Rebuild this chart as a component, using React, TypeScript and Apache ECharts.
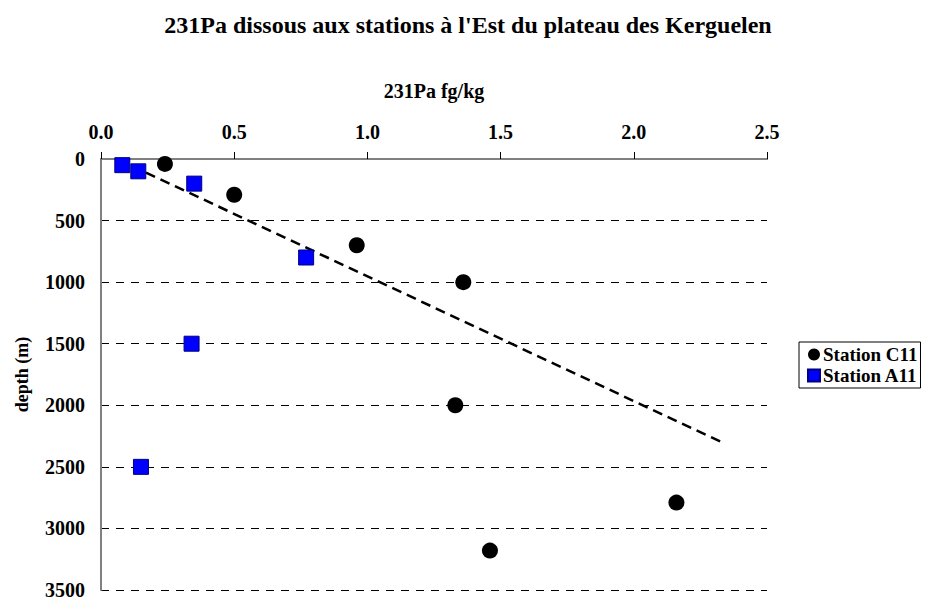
import React, { useEffect, useRef } from "react";
import * as echarts from "echarts";

const titleText = "231Pa dissous aux stations à l'Est du plateau des Kerguelen";
const xAxisName = "231Pa fg/kg";
const yAxisName = "depth (m)";

const stationC11: [number, number][] = [
  [0.24, 40],
  [0.5, 290],
  [0.96, 700],
  [1.36, 1000],
  [1.33, 2000],
  [2.16, 2790],
  [1.46, 3180],
];

const stationA11: [number, number][] = [
  [0.08, 50],
  [0.14, 100],
  [0.35, 200],
  [0.77, 800],
  [0.34, 1500],
  [0.15, 2500],
];

const trendLine: [number, number][] = [
  [0.06, 0],
  [2.33, 2300],
];

const FONT = "Liberation Serif";

export default function App() {
  const ref = useRef<HTMLDivElement>(null);
  useEffect(() => {
    if (!ref.current) return;
    const chart = echarts.init(ref.current, undefined, { renderer: "svg" });
    chart.setOption({
      animation: false,
      backgroundColor: "#ffffff",
      title: {
        text: titleText,
        left: 463,
        top: 8,
        textAlign: "center",
        textStyle: { fontFamily: FONT, fontWeight: "bold", fontSize: 24, color: "#000" },
      },
      legend: {
        orient: "vertical",
        left: 799,
        top: 342,
        padding: [3, 3, 3, 8],
        itemGap: 2,
        itemWidth: 12,
        itemHeight: 12,
        borderColor: "#000",
        borderWidth: 1,
        textStyle: { fontFamily: FONT, fontWeight: "bold", fontSize: 19, color: "#000", padding: [0, 0, 0, -2] },
        data: [
          { name: "Station C11", icon: "circle" },
          { name: "Station A11", icon: "rect" },
        ],
      },
      grid: { left: 101, top: 159, right: 161, bottom: 7, containLabel: false },
      xAxis: [
        {
          type: "value",
          position: "top",
          min: 0,
          max: 2.5,
          interval: 0.5,
          name: xAxisName,
          nameLocation: "middle",
          nameGap: 58,
          nameTextStyle: { fontFamily: FONT, fontWeight: "bold", fontSize: 20, color: "#000" },
          axisLine: { show: true, lineStyle: { color: "#000", width: 1 } },
          axisTick: { show: true, length: 7, lineStyle: { color: "#000" } },
          axisLabel: {
            fontFamily: FONT,
            fontWeight: "bold",
            fontSize: 20,
            color: "#000",
            margin: 17,
            formatter: (v: number) => v.toFixed(1),
          },
          splitLine: { show: false },
        },
        {
          type: "value",
          position: "bottom",
          min: 0,
          max: 2.5,
          axisLine: { show: true, lineStyle: { color: "#808080", width: 2 } },
          axisTick: { show: false },
          axisLabel: { show: false },
          splitLine: { show: false },
        },
      ],
      yAxis: [
        {
          type: "value",
          inverse: true,
          min: 0,
          max: 3500,
          interval: 500,
          name: yAxisName,
          nameLocation: "middle",
          nameGap: 70,
          nameRotate: 90,
          nameTextStyle: { fontFamily: FONT, fontWeight: "bold", fontSize: 18, color: "#000" },
          axisLine: { show: true, lineStyle: { color: "#000", width: 1 } },
          axisTick: { show: false },
          axisLabel: {
            fontFamily: FONT,
            fontWeight: "bold",
            fontSize: 20,
            color: "#000",
            margin: 16,
            formatter: (v: number) => String(v),
          },
          splitLine: { show: true, lineStyle: { color: "#000", width: 1, type: [8, 7] } },
        },
        {
          type: "value",
          position: "right",
          inverse: true,
          min: 0,
          max: 3500,
          axisLine: { show: true, lineStyle: { color: "#808080", width: 2 } },
          axisTick: { show: false },
          axisLabel: { show: false },
          splitLine: { show: false },
        },
      ],
      series: [
        {
          name: "trend",
          type: "line",
          data: trendLine,
          symbol: "none",
          lineStyle: { color: "#000", width: 2.5, type: [10, 6] },
          z: 1,
          silent: true,
        },
        {
          name: "Station C11",
          type: "scatter",
          data: stationC11,
          symbol: "circle",
          symbolSize: 16,
          itemStyle: { color: "#000", opacity: 1 },
          z: 3,
        },
        {
          name: "Station A11",
          type: "scatter",
          data: stationA11,
          symbol: "rect",
          symbolSize: 15,
          itemStyle: { color: "#0000ff", borderColor: "#000080", borderWidth: 1, opacity: 1 },
          z: 4,
        },
      ],
    });
    return () => chart.dispose();
  }, []);
  return <div ref={ref} style={{ width: 928, height: 600, position: "absolute", left: 0, top: 0 }} />;
}
